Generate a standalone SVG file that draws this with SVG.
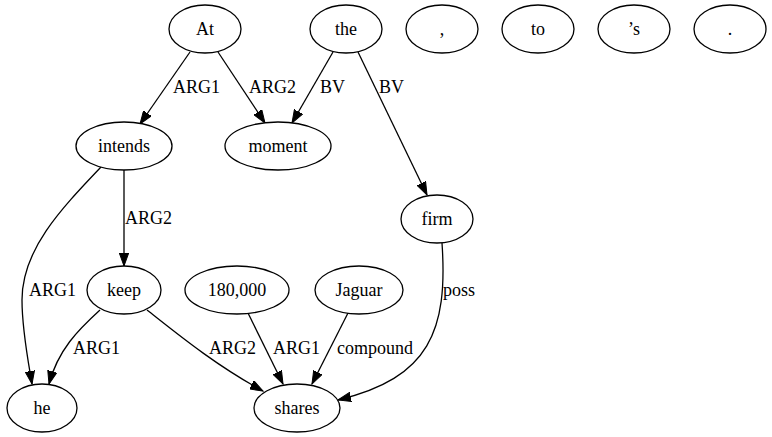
<svg xmlns="http://www.w3.org/2000/svg" width="772" height="437" viewBox="0 0 772 437" font-family="Liberation Serif, Times New Roman, DejaVu Serif, serif" font-size="18">
<style>
.n ellipse{fill:#fff;stroke:#000;stroke-width:1.3}
.n text{text-anchor:middle}
.e path{fill:none;stroke:#000;stroke-width:1.3;marker-end:url(#ah)}
</style>
<defs>
<marker id="ah" markerUnits="userSpaceOnUse" markerWidth="14" markerHeight="10" viewBox="0 0 14 10" refX="13" refY="5" orient="auto">
<path d="M0,0.3 L13,5 L0,9.7 z" fill="#000" stroke="#000" stroke-width="1"/>
</marker>
</defs>
<rect width="772" height="437" fill="#fff"/>
<g id="edges" class="e">
<path d="M190,52 L140,124"/>
<path d="M218,52 L265,123"/>
<path d="M333,52 L292,123"/>
<path d="M358,52 L427,195"/>
<path d="M124,170 L124,266"/>
<path d="M101,167 C60,210 22,250 22,300 C22,330 28,360 32,384"/>
<path d="M100,310 C78,330 58,350 49,384"/>
<path d="M147,310 C175,332 215,365 263,391"/>
<path d="M248,313 L283,384"/>
<path d="M348,313 L312,384"/>
<path d="M442,243 C448,330 430,378 338,400"/>
<text x="173" y="93">ARG1</text>
<text x="249" y="93">ARG2</text>
<text x="320" y="93">BV</text>
<text x="379" y="93">BV</text>
<text x="125" y="224">ARG2</text>
<text x="29" y="296">ARG1</text>
<text x="73" y="354">ARG1</text>
<text x="209" y="354">ARG2</text>
<text x="273" y="354">ARG1</text>
<text x="337" y="354">compound</text>
<text x="443" y="296">poss</text>
</g>
<g id="n_At" class="n"><ellipse cx="205" cy="29" rx="36" ry="24"/><text x="205" y="35">At</text></g>
<g id="n_the" class="n"><ellipse cx="346" cy="29" rx="36" ry="24"/><text x="346" y="35">the</text></g>
<g id="n_comma" class="n"><ellipse cx="442" cy="29" rx="36" ry="24"/><text x="442" y="35">,</text></g>
<g id="n_to" class="n"><ellipse cx="538" cy="29" rx="36" ry="24"/><text x="538" y="35">to</text></g>
<g id="n_s" class="n"><ellipse cx="634" cy="29" rx="36" ry="24"/><text x="634" y="35">’s</text></g>
<g id="n_period" class="n"><ellipse cx="730" cy="29" rx="36" ry="24"/><text x="730" y="35">.</text></g>
<g id="n_intends" class="n"><ellipse cx="124" cy="146" rx="48" ry="24"/><text x="124" y="152">intends</text></g>
<g id="n_moment" class="n"><ellipse cx="278" cy="146" rx="53" ry="24"/><text x="278" y="152">moment</text></g>
<g id="n_firm" class="n"><ellipse cx="437" cy="219" rx="36" ry="24"/><text x="437" y="225">firm</text></g>
<g id="n_keep" class="n"><ellipse cx="124" cy="290" rx="37" ry="24"/><text x="124" y="296">keep</text></g>
<g id="n_180000" class="n"><ellipse cx="237" cy="290" rx="52" ry="24"/><text x="237" y="296">180,000</text></g>
<g id="n_Jaguar" class="n"><ellipse cx="359" cy="290" rx="44" ry="24"/><text x="359" y="296">Jaguar</text></g>
<g id="n_he" class="n"><ellipse cx="42" cy="408" rx="35" ry="24"/><text x="42" y="414">he</text></g>
<g id="n_shares" class="n"><ellipse cx="297" cy="408" rx="43" ry="24"/><text x="297" y="414">shares</text></g>
</svg>
